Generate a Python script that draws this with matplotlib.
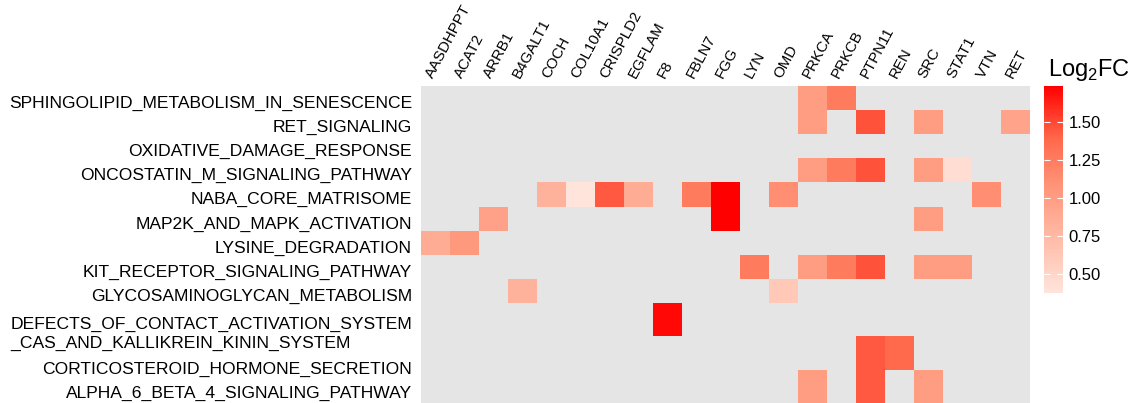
import numpy as np
import matplotlib
matplotlib.use('Agg')
import matplotlib.pyplot as plt
from matplotlib.colors import LinearSegmentedColormap, Normalize

plt.rcParams['font.family'] = ['Liberation Sans', 'DejaVu Sans']
plt.rcParams['mathtext.fontset'] = 'custom'
plt.rcParams['mathtext.rm'] = 'Liberation Sans'

# Data
genes = ['AASDHPPT', 'ACAT2', 'ARRB1', 'B4GALT1', 'COCH', 'COL10A1', 'CRISPLD2',
         'EGFLAM', 'F8', 'FBLN7', 'FGG', 'LYN', 'OMD', 'PRKCA', 'PRKCB', 'PTPN11',
         'REN', 'SRC', 'STAT1', 'VTN', 'RET']

pathways = [
    'SPHINGOLIPID_METABOLISM_IN_SENESCENCE',
    'RET_SIGNALING',
    'OXIDATIVE_DAMAGE_RESPONSE',
    'ONCOSTATIN_M_SIGNALING_PATHWAY',
    'NABA_CORE_MATRISOME',
    'MAP2K_AND_MAPK_ACTIVATION',
    'LYSINE_DEGRADATION',
    'KIT_RECEPTOR_SIGNALING_PATHWAY',
    'GLYCOSAMINOGLYCAN_METABOLISM',
    'DEFECTS_OF_CONTACT_ACTIVATION_SYSTEM\n_CAS_AND_KALLIKREIN_KININ_SYSTEM',
    'CORTICOSTEROID_HORMONE_SECRETION',
    'ALPHA_6_BETA_4_SIGNALING_PATHWAY',
]

# log2FC per pathway: {gene: value}
log2fc = {
    'SPHINGOLIPID_METABOLISM_IN_SENESCENCE': {'PRKCA': 1.00, 'PRKCB': 1.26},
    'RET_SIGNALING': {'PRKCA': 1.00, 'PTPN11': 1.47, 'SRC': 1.00, 'RET': 0.95},
    'OXIDATIVE_DAMAGE_RESPONSE': {},
    'ONCOSTATIN_M_SIGNALING_PATHWAY': {'PRKCA': 1.00, 'PRKCB': 1.26, 'PTPN11': 1.47,
                                       'SRC': 1.00, 'STAT1': 0.44},
    'NABA_CORE_MATRISOME': {'COCH': 0.82, 'COL10A1': 0.375, 'CRISPLD2': 1.44,
                            'EGFLAM': 0.87, 'FBLN7': 1.26, 'FGG': 1.737,
                            'OMD': 1.12, 'VTN': 1.12},
    'MAP2K_AND_MAPK_ACTIVATION': {'ARRB1': 0.97, 'FGG': 1.737, 'SRC': 1.00},
    'LYSINE_DEGRADATION': {'AASDHPPT': 0.87, 'ACAT2': 1.04},
    'KIT_RECEPTOR_SIGNALING_PATHWAY': {'LYN': 1.26, 'PRKCA': 1.00, 'PRKCB': 1.26,
                                       'PTPN11': 1.47, 'SRC': 1.00, 'STAT1': 1.00},
    'GLYCOSAMINOGLYCAN_METABOLISM': {'B4GALT1': 0.82, 'OMD': 0.62},
    'DEFECTS_OF_CONTACT_ACTIVATION_SYSTEM\n_CAS_AND_KALLIKREIN_KININ_SYSTEM': {'F8': 1.71},
    'CORTICOSTEROID_HORMONE_SECRETION': {'PTPN11': 1.44, 'REN': 1.39},
    'ALPHA_6_BETA_4_SIGNALING_PATHWAY': {'PRKCA': 1.00, 'PTPN11': 1.44, 'SRC': 1.00},
}

cbar_ticks = [0.50, 0.75, 1.00, 1.25, 1.50]

# Build matrix
matrix = np.full((len(pathways), len(genes)), np.nan)
for i, p in enumerate(pathways):
    for g, v in log2fc[p].items():
        matrix[i, genes.index(g)] = v

# Layout: bottom rows are drawn taller in the reference
row_heights = np.array([1.0] * 9 + [1.38, 1.38, 1.38])
y_edges = np.concatenate([[0], np.cumsum(row_heights)])
x_edges = np.arange(len(genes) + 1)
# label slots are evenly spaced (the two-line label takes two slots)
label_slots = np.array([0, 1, 2, 3, 4, 5, 6, 7, 8, 9.45, 11, 12])
label_y = 0.64 + label_slots * 1.003

cmap = LinearSegmentedColormap.from_list(
    'log2fc', ['#ffe4dc', '#ffbda9', '#ff977c', '#ff684b', '#ff0000'])
norm = Normalize(vmin=np.nanmin(matrix), vmax=np.nanmax(matrix))

W, H = 1143, 403
fig = plt.figure(figsize=(W / 100, H / 100), dpi=100)
ax = fig.add_axes([421 / W, 0, 609 / W, 317 / H])
ax.set_facecolor('#e5e5e5')

mesh = ax.pcolormesh(x_edges, y_edges, np.ma.masked_invalid(matrix),
                     cmap=cmap, norm=norm)
ax.set_xlim(0, len(genes))
ax.set_ylim(y_edges[-1], 0)

ax.set_yticks(label_y)
ax.set_yticklabels(pathways, fontsize=12.6, color='black', multialignment='left',
                   linespacing=1.38)
ax.tick_params(axis='y', length=0, pad=6.5)

ax.xaxis.tick_top()
ax.set_xticks(x_edges[:-1] + 0.5)
ax.set_xticklabels(genes, fontsize=10.8, color='black', rotation=62,
                   ha='left', va='bottom', rotation_mode='anchor')
ax.tick_params(axis='x', length=0, pad=4)

for spine in ax.spines.values():
    spine.set_visible(False)

# Colorbar
cax = fig.add_axes([1044 / W, (H - 293) / H, 19 / W, 207 / H])
cbar = fig.colorbar(mesh, cax=cax, ticks=cbar_ticks)
cbar.outline.set_visible(False)
cbar.ax.set_yticklabels(['{:.2f}'.format(t) for t in cbar_ticks])
cbar.ax.tick_params(labelsize=12, length=4, width=0.8, color='white',
                    direction='in', left=True, right=True, pad=4)
fig.text(1048 / W, 1 - 70 / H, r'Log$_{\mathregular{2}}$FC', fontsize=17,
         ha='left', va='center', color='black')

fig.savefig('out.png', dpi=100)
